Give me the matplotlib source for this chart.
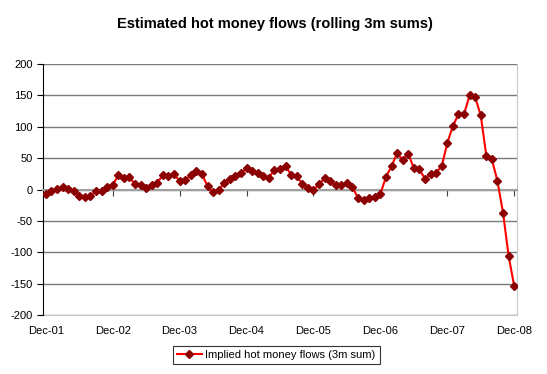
import numpy as np
import matplotlib.pyplot as plt

# monthly rolling 3m sums, Dec-01 .. Dec-08
flows = [
    -7, -3, 0.5, 4, 1, -3, -10, -12, -10, -3, -2, 4, 7,
    23, 19, 20, 8, 7, 2, 7, 11, 23, 22, 24, 14, 15,
    23, 30, 25, 5, -4, -0.5, 10, 17, 21, 26, 34, 30, 27,
    22, 19, 31, 33, 38, 23, 21, 9, 3, -0.5, 8, 18, 14,
    7, 7, 11, 4, -14, -16, -14, -12, -7, 20, 37, 58, 47,
    57, 34, 32, 17, 25, 27, 37, 74, 101, 120, 120, 150, 147,
    118, 54, 48, 13, -37, -106, -154,
]
tick_labels = ["Dec-01", "Dec-02", "Dec-03", "Dec-04", "Dec-05", "Dec-06", "Dec-07", "Dec-08"]
series_name = "Implied hot money flows (3m sum)"

plt.rcParams["font.family"] = ["Liberation Sans", "DejaVu Sans"]
plt.rcParams["axes.unicode_minus"] = False

fig = plt.figure(figsize=(5.47, 3.74), dpi=100)
ax = fig.add_axes([43 / 547, 1 - 315 / 374, (517 - 43) / 547, (315 - 64) / 374])

x = np.arange(len(flows))
ax.plot(x, flows, color="#ff0000", lw=1.5, marker="D", ms=4,
        mfc="#8b0000", mec="#8b0000", label=series_name, zorder=3)

ax.set_ylim(-200, 200)
ax.set_yticks(np.arange(-200, 201, 50))
ax.set_xlim(-0.5, len(flows) - 0.5)
ticks = np.arange(0, len(flows), 12)
ax.set_xticks(ticks)
ax.grid(axis="y", color="#7a7a7a", lw=1)
ax.set_axisbelow(True)

# category axis crosses at zero, labels sit low
ax.spines["bottom"].set_position(("data", 0))
ax.spines["bottom"].set_color("#a0a0a0")
ax.spines["bottom"].set_linewidth(1.5)
ax.spines["top"].set_visible(False)
ax.spines["right"].set_color("#c8c8c8")
ax.spines["left"].set_color("black")
ax.tick_params(axis="x", direction="out", length=4, color="#404040", labelbottom=False)
ax.tick_params(axis="y", direction="out", length=4, labelsize=8)

sec = ax.secondary_xaxis("bottom")
sec.set_xticks(ticks)
sec.set_xticklabels(tick_labels, fontsize=8)
sec.tick_params(length=0, pad=8)
sec.spines["bottom"].set_color("#c8c8c8")

fig.suptitle("Estimated hot money flows (rolling 3m sums)", fontsize=10.5,
             fontweight="bold", x=0.503, y=0.955)

leg = fig.legend(loc="center", bbox_to_anchor=(0.505, 1 - 355 / 374), fontsize=8,
                 frameon=True, fancybox=False, edgecolor="black", handlelength=2.2,
                 borderpad=0.4, handletextpad=0.3)
leg.get_frame().set_linewidth(0.8)

fig.savefig("out.png", dpi=100)
